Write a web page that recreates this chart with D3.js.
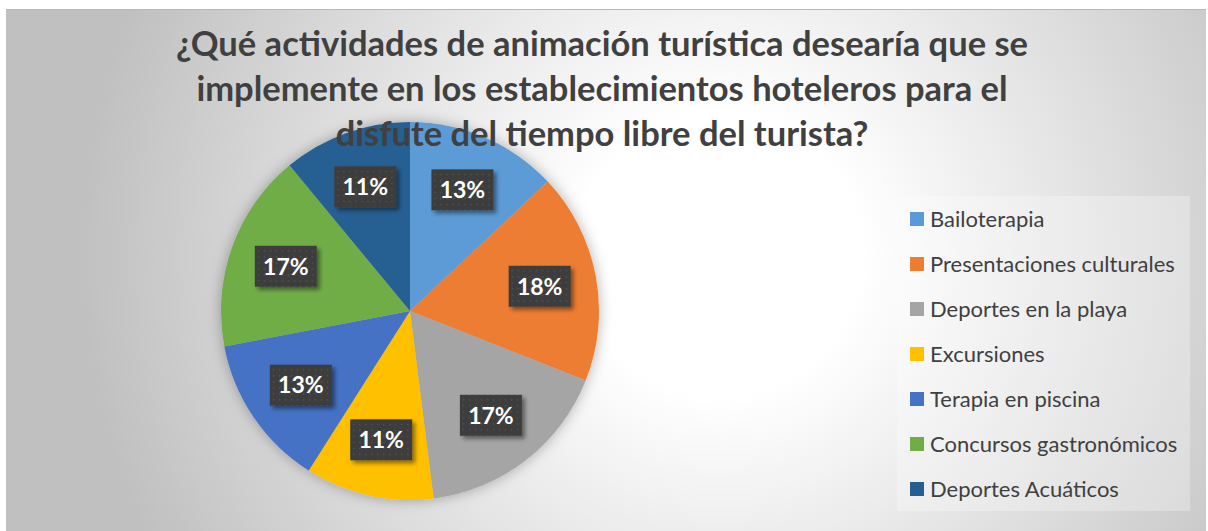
<!DOCTYPE html>
<html lang="es">
<head>
<meta charset="utf-8">
<script src="https://cdn.jsdelivr.net/npm/d3@7"></script>
<style>
  html, body { margin: 0; padding: 0; background: #fff; }
  svg { display: block; font-family: Lato, "Open Sans", sans-serif; }
</style>
</head>
<body>
<svg id="chart"></svg>
<script>
const titleLines = [
  "¿Qué actividades de animación turística desearía que se",
  "implemente en los establecimientos hoteleros para el",
  "disfute del tiempo libre del turista?"
];
const categories = [
  "Bailoterapia",
  "Presentaciones culturales",
  "Deportes en la playa",
  "Excursiones",
  "Terapia en piscina",
  "Concursos gastronómicos",
  "Deportes Acuáticos"
];
const values = [13, 18, 17, 11, 13, 17, 11];
const palette = ["#5b9bd5", "#ed7d31", "#a5a5a5", "#ffc000", "#4472c4", "#70ad47", "#255e91"];

(function () {
  const W = 1208, H = 531;
  const CX = 410, CY = 311, R = 189, LABEL_R = 132;

  const svg = d3.select("#chart").attr("width", W).attr("height", H);
  const defs = svg.append("defs");

  // background radial gradient
  const bg = defs.append("radialGradient").attr("id", "bgGrad")
    .attr("gradientUnits", "userSpaceOnUse")
    .attr("cx", 720).attr("cy", 255).attr("r", 640);
  bg.append("stop").attr("offset", 0).attr("stop-color", "#ffffff");
  bg.append("stop").attr("offset", 0.22).attr("stop-color", "#ffffff");
  bg.append("stop").attr("offset", 1).attr("stop-color", "#c0c0c0");

  // dotted pattern for the label boxes
  const pat = defs.append("pattern").attr("id", "dots")
    .attr("patternUnits", "userSpaceOnUse").attr("width", 6).attr("height", 6);
  pat.append("rect").attr("width", 6).attr("height", 6).attr("fill", "#3d3d3d");
  pat.append("rect").attr("x", 2).attr("y", 2).attr("width", 1.2).attr("height", 1.2).attr("fill", "#5a5a5a");

  const pieShadow = defs.append("filter").attr("id", "pieShadow")
    .attr("x", "-20%").attr("y", "-20%").attr("width", "140%").attr("height", "140%");
  pieShadow.append("feDropShadow").attr("dx", 0).attr("dy", 0)
    .attr("stdDeviation", 7).attr("flood-color", "#000").attr("flood-opacity", 0.3);

  const boxShadow = defs.append("filter").attr("id", "boxShadow")
    .attr("x", "-20%").attr("y", "-20%").attr("width", "150%").attr("height", "160%");
  boxShadow.append("feDropShadow").attr("dx", 3).attr("dy", 3)
    .attr("stdDeviation", 2).attr("flood-color", "#000").attr("flood-opacity", 0.45);

  // chart area
  svg.append("rect").attr("x", 6).attr("y", 9).attr("width", 1200).attr("height", 530)
    .attr("fill", "url(#bgGrad)");
  svg.append("line").attr("x1", 6).attr("x2", 1206).attr("y1", 9.5).attr("y2", 9.5)
    .attr("stroke", "#b8b8b8").attr("stroke-width", 1);

  const color = d3.scaleOrdinal().domain(categories).range(palette);

  const pie = d3.pie().sort(null).value((d) => d.value);
  const arcs = pie(categories.map((c, i) => ({ name: c, value: values[i] })));
  const arc = d3.arc().innerRadius(0).outerRadius(R);
  const labelArc = d3.arc().innerRadius(LABEL_R).outerRadius(LABEL_R);

  const gPie = svg.append("g").attr("transform", `translate(${CX},${CY})`);
  gPie.append("g").attr("filter", "url(#pieShadow)")
    .selectAll("path")
    .data(arcs)
    .join("path")
    .attr("d", arc)
    .attr("fill", (d) => color(d.data.name));

  const total = d3.sum(values);
  const lab = gPie.append("g")
    .selectAll("g")
    .data(arcs)
    .join("g")
    .attr("transform", (d) => `translate(${labelArc.centroid(d)})`);
  lab.append("rect")
    .attr("x", -31).attr("y", -20.5).attr("width", 62).attr("height", 41)
    .attr("fill", "url(#dots)")
    .attr("filter", "url(#boxShadow)");
  lab.append("text")
    .attr("text-anchor", "middle")
    .attr("dy", "0.36em")
    .attr("fill", "#fff")
    .attr("font-weight", 700)
    .attr("font-size", "23px")
    .text((d) => d3.format(".0%")(d.data.value / total));

  // title
  svg.append("text")
    .attr("text-anchor", "middle")
    .attr("fill", "#404040")
    .attr("font-weight", 700)
    .attr("font-size", "34.5px")
    .selectAll("tspan")
    .data(titleLines)
    .join("tspan")
    .attr("x", 602)
    .attr("y", (d, i) => 56 + i * 45)
    .text((d) => d);

  // legend
  svg.append("rect").attr("x", 897).attr("y", 196).attr("width", 293).attr("height", 315)
    .attr("fill", "#fff").attr("fill-opacity", 0.28);
  const ly = d3.scalePoint().domain(categories).range([219, 489]);
  const li = svg.append("g").selectAll("g")
    .data(categories)
    .join("g")
    .attr("transform", (d) => `translate(910,${ly(d)})`);
  li.append("rect").attr("x", 0).attr("y", -7).attr("width", 14).attr("height", 14)
    .attr("fill", (d) => color(d));
  li.append("text").attr("x", 20).attr("dy", "0.35em")
    .attr("fill", "#404040").attr("font-size", "22px")
    .text((d) => d);
})();
</script>
</body>
</html>
